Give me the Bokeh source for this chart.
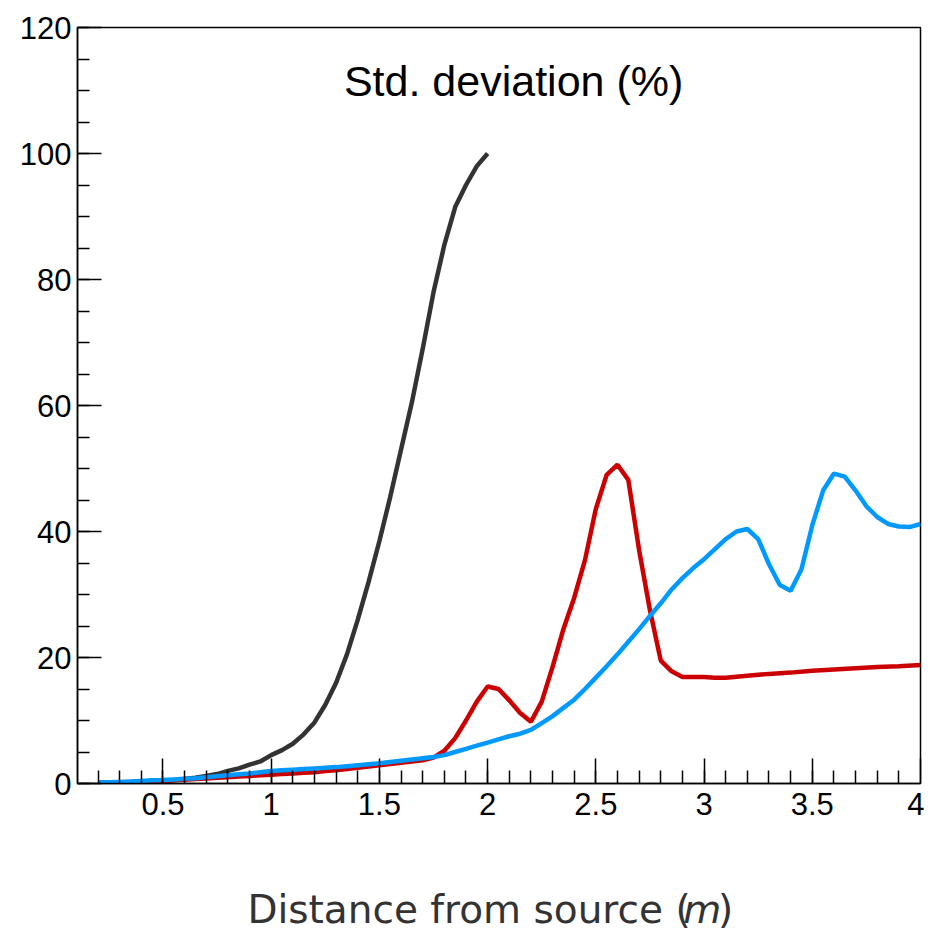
from bokeh.plotting import figure
from bokeh.models import FixedTicker, NumeralTickFormatter, Label, Range1d
from bokeh.layouts import column
from bokeh.core.properties import value
from bokeh.embed import file_html
from bokeh.resources import INLINE

# ---- data ----
black_x = [0.2, 0.25, 0.3, 0.35, 0.4, 0.45, 0.5, 0.55, 0.6, 0.65, 0.7, 0.75, 0.8, 0.85,
           0.9, 0.95, 1.0, 1.05, 1.1, 1.15, 1.2, 1.25, 1.3, 1.35, 1.4, 1.45, 1.5, 1.55,
           1.6, 1.65, 1.7, 1.75, 1.8, 1.85, 1.9, 1.95, 2.0]
black_y = [0.1, 0.1, 0.2, 0.2, 0.3, 0.3, 0.4, 0.5, 0.7, 0.9, 1.2, 1.5, 2.0, 2.4,
           3.0, 3.5, 4.5, 5.3, 6.3, 7.8, 9.7, 12.5, 16.0, 20.5, 26.0, 32.0, 38.5, 45.5,
           53.0, 60.5, 69.0, 78.0, 85.5, 91.5, 95.0, 98.0, 100.0]

red_x = [0.2, 0.25, 0.3, 0.35, 0.4, 0.45, 0.5, 0.55, 0.6, 0.65, 0.7, 0.75, 0.8, 0.85,
         0.9, 0.95, 1.0, 1.05, 1.1, 1.15, 1.2, 1.25, 1.3, 1.35, 1.4, 1.45, 1.5, 1.55,
         1.6, 1.65, 1.7, 1.75, 1.8, 1.85, 1.9, 1.95, 2.0, 2.05, 2.1, 2.15, 2.2, 2.25,
         2.3, 2.35, 2.4, 2.45, 2.5, 2.55, 2.6, 2.65, 2.7, 2.75, 2.8, 2.85, 2.9, 2.95,
         3.0, 3.05, 3.1, 3.2, 3.3, 3.4, 3.5, 3.6, 3.7, 3.8, 3.9, 4.0]
red_y = [0.1, 0.15, 0.2, 0.25, 0.3, 0.35, 0.4, 0.5, 0.6, 0.7, 0.8, 0.9, 1.0, 1.1,
         1.2, 1.3, 1.4, 1.5, 1.6, 1.7, 1.8, 2.0, 2.1, 2.3, 2.5, 2.7, 2.9, 3.1,
         3.3, 3.5, 3.7, 4.1, 5.2, 7.2, 10.0, 13.0, 15.4, 15.0, 13.2, 11.2, 9.8, 13.0,
         18.5, 24.5, 29.5, 35.5, 43.6, 49.0, 50.6, 48.2, 37.0, 27.5, 19.5, 17.8, 16.9, 16.9,
         16.9, 16.8, 16.8, 17.1, 17.4, 17.6, 17.9, 18.1, 18.3, 18.5, 18.6, 18.8]

blue_x = [0.2, 0.25, 0.3, 0.35, 0.4, 0.45, 0.5, 0.55, 0.6, 0.65, 0.7, 0.75, 0.8, 0.85,
          0.9, 0.95, 1.0, 1.05, 1.1, 1.15, 1.2, 1.25, 1.3, 1.35, 1.4, 1.45, 1.5, 1.55,
          1.6, 1.65, 1.7, 1.75, 1.8, 1.85, 1.9, 1.95, 2.0, 2.05, 2.1, 2.15, 2.2, 2.25,
          2.3, 2.35, 2.4, 2.45, 2.5, 2.55, 2.6, 2.65, 2.7, 2.75, 2.8, 2.85, 2.9, 2.95,
          3.0, 3.05, 3.1, 3.15, 3.2, 3.25, 3.3, 3.35, 3.4, 3.45, 3.5, 3.55, 3.6, 3.65,
          3.7, 3.75, 3.8, 3.85, 3.9, 3.95, 4.0]
blue_y = [0.15, 0.2, 0.25, 0.3, 0.4, 0.5, 0.55, 0.65, 0.75, 0.85, 1.0, 1.15, 1.3, 1.45,
          1.6, 1.8, 2.0, 2.1, 2.2, 2.3, 2.4, 2.5, 2.6, 2.75, 2.9, 3.05, 3.2, 3.4,
          3.6, 3.8, 4.0, 4.2, 4.5, 5.0, 5.5, 6.0, 6.5, 7.0, 7.5, 7.9, 8.5, 9.6,
          10.7, 12.0, 13.3, 15.0, 16.8, 18.6, 20.5, 22.5, 24.5, 26.6, 28.6, 30.8, 32.6, 34.2,
          35.6, 37.2, 38.8, 40.0, 40.4, 38.8, 34.8, 31.5, 30.6, 34.0, 41.0, 46.5, 49.2, 48.7,
          46.5, 44.0, 42.3, 41.2, 40.8, 40.7, 41.2]

x_major = [0.5, 1.0, 1.5, 2.0, 2.5, 3.0, 3.5, 4.0]
x_minor = [round(0.2 + 0.1 * i, 1) for i in range(38)]
y_major = [0, 20, 40, 60, 80, 100, 120]
y_minor = list(range(0, 121, 5))

title_text = "Std. deviation (%)"
x_label_main = "Distance from source ("
x_label_unit = "m"
x_label_close = ")"

W = 924
p = figure(width=W, height=860, output_backend="svg", toolbar_location=None,
           x_range=Range1d(0.105, 4.0), y_range=Range1d(0, 120),
           min_border_left=77, min_border_top=27, min_border_right=4,
           min_border_bottom=77)

p.line(black_x, black_y, line_color="#333333", line_width=4.5)
p.line(red_x, red_y, line_color="#cc0000", line_width=4.5)
p.line(blue_x, blue_y, line_color="#0099ff", line_width=4.5)

p.xgrid.visible = False
p.ygrid.visible = False
p.outline_line_color = "black"
p.outline_line_width = 1.5
p.background_fill_color = "white"
p.border_fill_color = "white"

for ax in (p.xaxis[0], p.yaxis[0]):
    ax.major_tick_out = 0
    ax.minor_tick_out = 0
    ax.axis_line_color = "black"
    ax.axis_line_width = 1.5
    ax.major_tick_line_color = "black"
    ax.minor_tick_line_color = "black"
    ax.major_tick_line_width = 1.5
    ax.minor_tick_line_width = 1.5
    ax.major_label_text_font = "Liberation Sans"
    ax.major_label_text_font_size = "31px"
    ax.major_label_text_color = "black"

p.xaxis.major_label_standoff = 9
p.yaxis.major_label_standoff = 6
p.xaxis.ticker = FixedTicker(ticks=x_major, minor_ticks=x_minor)
p.xaxis.formatter = NumeralTickFormatter(format="0.[0]")
p.xaxis.major_tick_in = 25
p.xaxis.minor_tick_in = 13
p.yaxis.ticker = FixedTicker(ticks=y_major, minor_ticks=y_minor)
p.yaxis.major_tick_in = 24
p.yaxis.minor_tick_in = 12

p.add_layout(Label(x=2.12, y=111.5, text=title_text, text_align="center",
                   text_baseline="middle", text_font="Liberation Sans",
                   text_font_size="43px", text_color="black"))

# ---- strip below holding the x-axis title (italic unit) ----
H2 = 73
q = figure(width=W, height=H2, output_backend="svg", toolbar_location=None,
           x_range=Range1d(0, W), y_range=Range1d(0, H2),
           min_border=0, min_border_left=0, min_border_right=0,
           min_border_top=0, min_border_bottom=0)
q.axis.visible = False
q.xgrid.visible = False
q.ygrid.visible = False
q.outline_line_color = None
q.background_fill_color = "white"
q.border_fill_color = "white"

ly = 24
txt = dict(text_baseline="alphabetic", text_font=value("DejaVu Sans"),
           text_font_size="39px", text_color="#333333")
q.text(x=[672], y=[ly], text=[x_label_main], text_align="right", **txt)
q.text(x=[664], y=[ly], text=[x_label_unit], text_align="left",
       text_font_style="italic", **txt)
q.text(x=[702], y=[ly], text=[x_label_close], text_align="left", **txt)

layout = column(p, q, spacing=0)
open("out.html", "w").write(file_html(layout, INLINE))
